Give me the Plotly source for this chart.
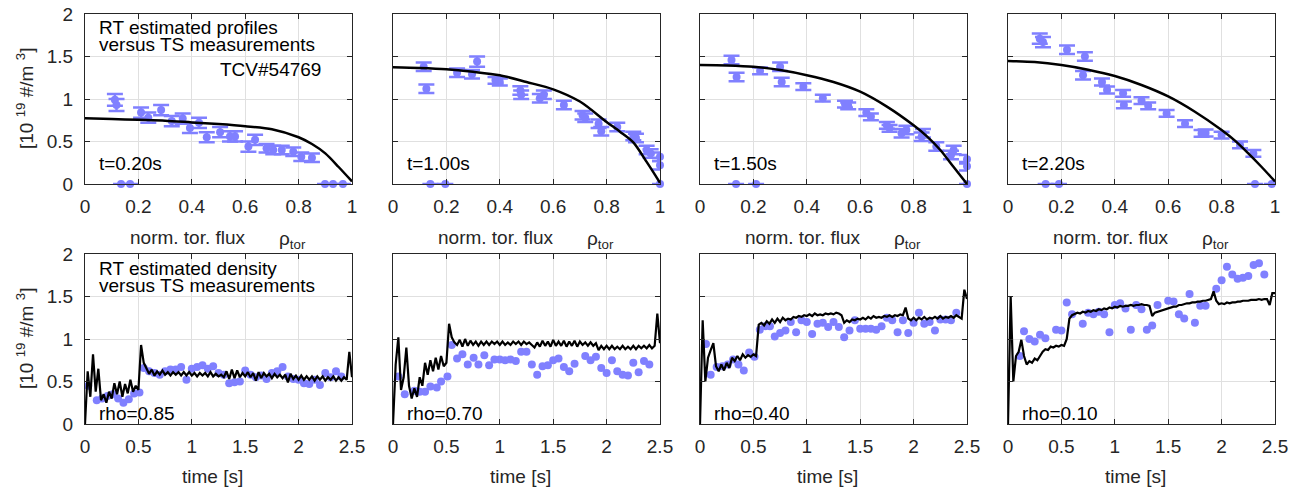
import plotly.graph_objects as go

# ---------------- data ----------------
# Top row: TS profile measurements (rho_tor, density 1e19 m^-3, error) and RT estimated profile
prof_times = ["t=0.20s", "t=1.00s", "t=1.50s", "t=2.20s"]

ts_rho_1 = [0.112, 0.118, 0.21, 0.237, 0.285, 0.325, 0.366, 0.393, 0.427, 0.456, 0.506, 0.543, 0.562,
            0.612, 0.637, 0.68, 0.705, 0.737, 0.78, 0.81, 0.85, 0.135, 0.169, 0.899, 0.929, 0.966]
ts_ne_1 = [0.99, 0.93, 0.84, 0.78, 0.87, 0.74, 0.77, 0.66, 0.72, 0.55, 0.61, 0.56, 0.56,
           0.44, 0.52, 0.42, 0.40, 0.40, 0.38, 0.32, 0.31, 0, 0, 0, 0, 0]
ts_err_1 = [0.07, 0.07, 0.06, 0.06, 0.06, 0.06, 0.06, 0.06, 0.06, 0.06, 0.06, 0.06, 0.06,
            0.06, 0.06, 0.05, 0.05, 0.05, 0.05, 0.05, 0.05, 0, 0, 0, 0, 0]

ts_rho_2 = [0.115, 0.125, 0.24, 0.296, 0.315, 0.384, 0.40, 0.477, 0.48, 0.55, 0.565, 0.64, 0.71, 0.72,
            0.77, 0.78, 0.84, 0.90, 0.91, 0.95, 0.965, 1.0, 1.0, 0.14, 0.196, 1.0]
ts_ne_2 = [1.38, 1.12, 1.31, 1.29, 1.44, 1.22, 1.20, 1.10, 1.05, 1.01, 1.05, 0.93, 0.81, 0.78,
           0.71, 0.62, 0.67, 0.565, 0.54, 0.40, 0.36, 0.32, 0.22, 0, 0, 0]
ts_err_2 = [0.05, 0.05, 0.05, 0.05, 0.06, 0.04, 0.04, 0.05, 0.05, 0.05, 0.05, 0.05, 0.05, 0.05,
            0.05, 0.05, 0.05, 0.05, 0.05, 0.05, 0.05, 0.05, 0.05, 0, 0, 0]

ts_rho_3 = [0.118, 0.137, 0.225, 0.30, 0.306, 0.387, 0.46, 0.543, 0.555, 0.623, 0.64, 0.70, 0.71,
            0.755, 0.773, 0.83, 0.835, 0.885, 0.94, 0.95, 1.0, 1.0, 0.135, 0.21, 1.0]
ts_ne_3 = [1.46, 1.26, 1.33, 1.38, 1.20, 1.145, 1.01, 0.94, 0.92, 0.84, 0.79, 0.69, 0.655,
           0.596, 0.635, 0.557, 0.596, 0.44, 0.34, 0.40, 0.29, 0.21, 0, 0, 0]
ts_err_3 = [0.05, 0.05, 0.04, 0.05, 0.05, 0.04, 0.04, 0.04, 0.04, 0.04, 0.04, 0.04, 0.04,
            0.05, 0.05, 0.05, 0.05, 0.05, 0.05, 0.05, 0.05, 0.05, 0, 0, 0]

ts_rho_4 = [0.119, 0.131, 0.221, 0.288, 0.281, 0.352, 0.371, 0.431, 0.434, 0.50, 0.525, 0.594, 0.663,
            0.725, 0.74, 0.80, 0.869, 0.919, 0.141, 0.191, 0.925, 0.988]
ts_ne_4 = [1.71, 1.67, 1.58, 1.50, 1.28, 1.20, 1.106, 1.067, 0.93, 0.98, 0.92, 0.83, 0.71,
           0.596, 0.60, 0.576, 0.46, 0.36, 0, 0, 0, 0]
ts_err_4 = [0.06, 0.06, 0.05, 0.05, 0.05, 0.04, 0.04, 0.04, 0.04, 0.04, 0.04, 0.04, 0.04,
            0.04, 0.04, 0.04, 0.04, 0.04, 0, 0, 0, 0]

rt_rho = [0, 0.1, 0.2, 0.3, 0.4, 0.5, 0.6, 0.7, 0.8, 0.85, 0.9, 0.95, 1.0]
rt_prof_1 = [0.773, 0.765, 0.755, 0.745, 0.725, 0.705, 0.68, 0.645, 0.55, 0.47, 0.36, 0.20, 0.03]
rt_prof_2 = [1.373, 1.365, 1.35, 1.32, 1.28, 1.20, 1.114, 0.97, 0.73, 0.615, 0.49, 0.26, 0.015]
rt_prof_3 = [1.40, 1.395, 1.38, 1.34, 1.28, 1.20, 1.086, 0.91, 0.69, 0.56, 0.40, 0.20, 0.0]
rt_prof_4 = [1.447, 1.435, 1.40, 1.345, 1.27, 1.165, 1.03, 0.85, 0.635, 0.51, 0.36, 0.20, 0.03]

# Bottom row: time traces at fixed rho
trace_rhos = ["rho=0.85", "rho=0.70", "rho=0.40", "rho=0.10"]
rt_t0 = 0.0
rt_dt = 0.025

rt_ne_085 = [0.0, 0.62, 0.32, 0.82, 0.38, 0.65, 0.28, 0.35, 0.25, 0.38, 0.30, 0.48, 0.35, 0.50, 0.32, 0.47,
             0.36, 0.52, 0.38, 0.45, 0.40, 0.93, 0.72, 0.65, 0.59, 0.64, 0.57, 0.62, 0.58, 0.63, 0.58, 0.61,
             0.57, 0.61, 0.58, 0.61, 0.57, 0.61, 0.57, 0.61, 0.57, 0.60, 0.56, 0.60, 0.57, 0.60, 0.56, 0.61,
             0.56, 0.59, 0.56, 0.58, 0.55, 0.62, 0.53, 0.64, 0.54, 0.63, 0.55, 0.60, 0.56, 0.61, 0.55, 0.60,
             0.51, 0.61, 0.54, 0.60, 0.56, 0.59, 0.54, 0.59, 0.55, 0.58, 0.54, 0.58, 0.49, 0.59, 0.53, 0.57,
             0.52, 0.57, 0.52, 0.56, 0.52, 0.56, 0.51, 0.56, 0.52, 0.56, 0.51, 0.55, 0.52, 0.56, 0.51, 0.55,
             0.51, 0.55, 0.52, 0.85, 0.55]
rt_ne_070 = [0.0, 0.70, 1.02, 0.40, 0.55, 0.90, 0.45, 0.30, 0.42, 0.32, 0.55, 0.45, 0.72, 0.58, 0.75, 0.62,
             0.78, 0.64, 0.80, 0.68, 0.72, 1.18, 1.02, 0.96, 0.93, 0.99, 0.91, 1.00, 0.92, 0.98, 0.93, 0.97,
             0.92, 0.97, 0.93, 0.97, 0.93, 0.97, 0.94, 0.97, 0.93, 0.97, 0.93, 0.96, 0.93, 0.97, 0.94, 0.97,
             0.93, 0.97, 0.94, 0.96, 0.93, 0.90, 0.96, 0.91, 0.98, 0.92, 0.97, 0.91, 0.99, 0.92, 0.97, 0.92,
             0.98, 0.91, 0.97, 0.92, 0.98, 0.91, 0.97, 0.93, 0.96, 0.92, 0.96, 0.92, 0.95, 0.87, 0.92, 0.88,
             0.92, 0.88, 0.92, 0.88, 0.91, 0.88, 0.92, 0.88, 0.91, 0.88, 0.92, 0.88, 0.92, 0.89, 0.92, 0.89,
             0.93, 0.89, 0.92, 1.30, 0.95]
rt_ne_040 = [0.0, 1.22, 0.50, 0.78, 0.87, 0.95, 0.68, 0.62, 0.70, 0.63, 0.72, 0.66, 0.78, 0.74, 0.80, 0.75,
             0.82, 0.78, 0.81, 0.79, 0.82, 0.80, 1.17, 1.19, 1.16, 1.21, 1.18, 1.23, 1.19, 1.24, 1.20, 1.25,
             1.22, 1.24, 1.23, 1.26, 1.25, 1.27, 1.26, 1.28, 1.27, 1.29, 1.27, 1.30, 1.28, 1.29, 1.28, 1.30,
             1.29, 1.30, 1.29, 1.31, 1.30, 1.28, 1.19, 1.22, 1.20, 1.23, 1.22, 1.24, 1.23, 1.25, 1.23, 1.26,
             1.24, 1.27, 1.25, 1.26, 1.25, 1.27, 1.26, 1.28, 1.26, 1.28, 1.27, 1.29, 1.28, 1.37, 1.24, 1.22,
             1.25, 1.22, 1.25, 1.23, 1.26, 1.23, 1.25, 1.24, 1.26, 1.24, 1.27, 1.24, 1.26, 1.25, 1.27, 1.25,
             1.28, 1.26, 1.24, 1.58, 1.47]
rt_ne_010 = [0.0, 1.50, 0.50, 0.80, 0.85, 0.99, 0.80, 0.70, 0.74, 0.72, 0.77, 0.75, 0.80, 0.85, 0.88, 0.87,
             0.91, 0.90, 0.92, 0.91, 0.93, 0.92, 1.00, 1.24, 1.28, 1.30, 1.31, 1.30, 1.32, 1.31, 1.33, 1.32,
             1.34, 1.33, 1.35, 1.34, 1.36, 1.35, 1.37, 1.36, 1.38, 1.37, 1.39, 1.38, 1.39, 1.39, 1.40, 1.39,
             1.40, 1.40, 1.41, 1.40, 1.40, 1.39, 1.27, 1.31, 1.32, 1.33, 1.34, 1.35, 1.36, 1.37, 1.38, 1.38,
             1.40, 1.40, 1.41, 1.42, 1.42, 1.43, 1.43, 1.44, 1.44, 1.45, 1.45, 1.46, 1.47, 1.56, 1.45, 1.41,
             1.42, 1.41, 1.43, 1.42, 1.43, 1.43, 1.44, 1.44, 1.45, 1.45, 1.45, 1.46, 1.46, 1.46, 1.47, 1.46,
             1.47, 1.47, 1.40, 1.54, 1.54]

ts_t_085 = [0.03, 0.11, 0.16, 0.21, 0.26, 0.31, 0.36, 0.41, 0.46, 0.51, 0.55, 0.6, 0.65, 0.7, 0.75, 0.8,
            0.85, 0.9, 0.95, 1.0, 1.05, 1.1, 1.15, 1.2, 1.25, 1.3, 1.35, 1.4, 1.45, 1.5, 1.55, 1.6, 1.65,
            1.7, 1.75, 1.8, 1.85, 1.9, 1.95, 2.0, 2.05, 2.1, 2.15, 2.2, 2.25, 2.3, 2.35, 2.4]
ts_v_085 = [0.45, 0.28, 0.30, 0.33, 0.35, 0.30, 0.25, 0.29, 0.36, 0.37, 0.66, 0.62, 0.60, 0.58, 0.62, 0.64,
            0.64, 0.67, 0.52, 0.65, 0.67, 0.69, 0.65, 0.68, 0.60, 0.58, 0.48, 0.49, 0.50, 0.63, 0.58, 0.55,
            0.57, 0.53, 0.60, 0.62, 0.67, 0.56, 0.53, 0.52, 0.48, 0.47, 0.52, 0.46, 0.60, 0.55, 0.62, 0.56]
ts_t_070 = [0.05, 0.11, 0.2, 0.25, 0.3, 0.35, 0.41, 0.45, 0.51, 0.55, 0.6, 0.65, 0.7, 0.755, 0.8, 0.855,
            0.9, 0.95, 1.0, 1.05, 1.1, 1.15, 1.2, 1.25, 1.3, 1.35, 1.4, 1.45, 1.5, 1.55, 1.6, 1.65, 1.7,
            1.8, 1.85, 1.9, 1.95, 2.0, 2.05, 2.1, 2.15, 2.2, 2.25, 2.3, 2.35, 2.4]
ts_v_070 = [0.56, 0.35, 0.39, 0.38, 0.38, 0.44, 0.43, 0.50, 0.56, 0.93, 0.77, 0.82, 0.70, 0.78, 0.70, 0.81,
            0.69, 0.76, 0.76, 0.75, 0.76, 0.74, 0.85, 0.85, 0.70, 0.58, 0.68, 0.69, 0.75, 0.77, 0.67, 0.62,
            0.71, 0.80, 0.75, 0.79, 0.66, 0.60, 0.75, 0.62, 0.58, 0.57, 0.72, 0.61, 0.74, 0.70]
ts_t_040 = [0.056, 0.1, 0.156, 0.21, 0.26, 0.31, 0.36, 0.41, 0.46, 0.51, 0.56, 0.61, 0.655, 0.70, 0.75,
            0.8, 0.85, 0.9, 0.95, 1.0, 1.05, 1.1, 1.15, 1.2, 1.25, 1.3, 1.35, 1.4, 1.45, 1.5, 1.55, 1.6,
            1.65, 1.7, 1.75, 1.8, 1.85, 1.9, 1.95, 2.0, 2.05, 2.1, 2.15, 2.2, 2.25, 2.3, 2.35, 2.4]
ts_v_040 = [0.94, 0.58, 0.67, 0.68, 0.70, 0.76, 0.70, 0.63, 0.84, 0.79, 1.11, 1.15, 1.15, 1.03, 1.07,
            1.10, 1.20, 1.08, 1.22, 1.20, 1.06, 1.18, 1.19, 1.14, 1.20, 1.14, 1.02, 1.10, 1.22, 1.12, 1.12,
            1.12, 1.11, 1.15, 1.25, 1.22, 1.08, 1.22, 1.07, 1.19, 1.31, 1.18, 1.20, 1.10, 1.23, 1.23, 1.22, 1.31]
ts_t_010 = [0.11, 0.15, 0.2, 0.25, 0.3, 0.35, 0.45, 0.5, 0.55, 0.6, 0.7, 0.75, 0.8, 0.85, 0.9, 0.95, 1.0,
            1.05, 1.1, 1.15, 1.2, 1.25, 1.3, 1.35, 1.4, 1.5, 1.55, 1.6, 1.65, 1.7, 1.75, 1.8, 1.85, 1.95,
            2.0, 2.05, 2.1, 2.15, 2.2, 2.25, 2.3, 2.35, 2.4]
ts_v_010 = [0.80, 1.09, 1.00, 0.97, 1.05, 1.01, 1.11, 1.10, 1.43, 1.29, 1.18, 1.31, 1.29, 1.32, 1.29, 1.08,
            1.40, 1.42, 1.36, 1.11, 1.40, 1.35, 1.11, 1.16, 1.40, 1.45, 1.44, 1.29, 1.24, 1.53, 1.19, 1.39,
            1.39, 1.59, 1.69, 1.85, 1.76, 1.71, 1.72, 1.74, 1.87, 1.89, 1.76]

y_ticks = [0, 0.5, 1, 1.5, 2]
rho_ticks = [0, 0.2, 0.4, 0.6, 0.8, 1]
time_ticks = [0, 0.5, 1, 1.5, 2, 2.5]

# ---------------- styling / layout ----------------
W, H = 1294, 487
FONT = "Liberation Sans, Arial, Helvetica, sans-serif"
TS_COLOR = "#8080ff"
AX_COLOR = "#262626"
GRID = "#e0e0e0"
FS = 19

col_left = [85, 393, 700, 1008]
col_w = 267
row_px = [(14, 184), (254, 424)]

def px_x(px):
    return px / W

def px_y(py):
    return 1 - py / H

fig = go.Figure()

top_sets = [
    (ts_rho_1, ts_ne_1, ts_err_1, rt_prof_1),
    (ts_rho_2, ts_ne_2, ts_err_2, rt_prof_2),
    (ts_rho_3, ts_ne_3, ts_err_3, rt_prof_3),
    (ts_rho_4, ts_ne_4, ts_err_4, rt_prof_4),
]
bot_sets = [
    (ts_t_085, ts_v_085, rt_ne_085),
    (ts_t_070, ts_v_070, rt_ne_070),
    (ts_t_040, ts_v_040, rt_ne_040),
    (ts_t_010, ts_v_010, rt_ne_010),
]

layout_axes = {}
annotations = []

for i in range(4):
    for row in range(2):
        k = i + 1 + 4 * row
        xa = "x" if k == 1 else f"x{k}"
        ya = "y" if k == 1 else f"y{k}"
        xname = "xaxis" if k == 1 else f"xaxis{k}"
        yname = "yaxis" if k == 1 else f"yaxis{k}"
        top_px, bot_px = row_px[row]
        common = dict(showline=True, linecolor=AX_COLOR, linewidth=1, mirror="ticks",
                      ticks="inside", ticklen=5, tickcolor=AX_COLOR, tickwidth=1,
                      showgrid=True, gridcolor=GRID, gridwidth=1, zeroline=False,
                      automargin=False,
                      tickfont=dict(family=FONT, size=FS, color=AX_COLOR))
        if row == 0:
            xr, xt = [0, 1], rho_ticks
        else:
            xr, xt = [0, 2.5], time_ticks
        layout_axes[xname] = dict(common, domain=[px_x(col_left[i]), px_x(col_left[i] + col_w)],
                                  range=xr, tickvals=xt, anchor=ya, ticklabelstandoff=5)
        layout_axes[yname] = dict(common, domain=[px_y(bot_px), px_y(top_px)],
                                  range=[0, 2], tickvals=y_ticks, anchor=xa,
                                  showticklabels=(i == 0), ticklabelstandoff=7)

        if row == 0:
            rho, ne, err, prof = top_sets[i]
            fig.add_trace(go.Scatter(x=rho, y=ne, mode="markers", xaxis=xa, yaxis=ya,
                                     marker=dict(color=TS_COLOR, size=8),
                                     error_y=dict(type="data", array=err, visible=True,
                                                  color=TS_COLOR, thickness=2.5, width=8),
                                     cliponaxis=False, showlegend=False))
            fig.add_trace(go.Scatter(x=rt_rho, y=prof, mode="lines", xaxis=xa, yaxis=ya,
                                     line=dict(color="black", width=2.5, shape="spline", smoothing=0.8),
                                     showlegend=False))
        else:
            tt, tv, rt = bot_sets[i]
            fig.add_trace(go.Scatter(x=tt, y=tv, mode="markers", xaxis=xa, yaxis=ya,
                                     marker=dict(color=TS_COLOR, size=8),
                                     cliponaxis=False, showlegend=False))
            fig.add_trace(go.Scatter(x0=rt_t0, dx=rt_dt, y=rt, mode="lines", xaxis=xa, yaxis=ya,
                                     line=dict(color="black", width=2.2),
                                     showlegend=False))

def add_text(text, px, py, xanchor="left", size=FS, angle=0, color="black"):
    annotations.append(dict(text=text, x=px_x(px), y=px_y(py), xref="paper", yref="paper",
                            xanchor=xanchor, yanchor="middle", showarrow=False, textangle=angle,
                            font=dict(family=FONT, size=size, color=color)))

for i in range(4):
    add_text(prof_times[i], col_left[i] + 12, 163)
    add_text(trace_rhos[i], col_left[i] + 12, 413)
    add_text("norm. tor. flux", col_left[i] + 43, 237, color=AX_COLOR)
    add_text("ρ<sub>tor</sub>", col_left[i] + 192, 240, color=AX_COLOR)
    add_text("time [s]", col_left[i] + 127, 476, xanchor="center", color=AX_COLOR)

add_text("RT estimated profiles", 97, 28)
add_text("versus TS measurements", 97, 45)
add_text("TCV#54769", 323, 69, xanchor="right")
add_text("RT estimated density", 97, 268)
add_text("versus TS measurements", 97, 285)

for cy in (99, 339):
    add_text("[10 <sup>19</sup> #/m <sup>3</sup>]", 25, cy, xanchor="center", angle=-90, color=AX_COLOR)

fig.update_layout(width=W, height=H, margin=dict(l=0, r=0, t=0, b=0, autoexpand=False),
                  paper_bgcolor="white", plot_bgcolor="white",
                  annotations=annotations, **layout_axes)

fig.write_html("out.html")
